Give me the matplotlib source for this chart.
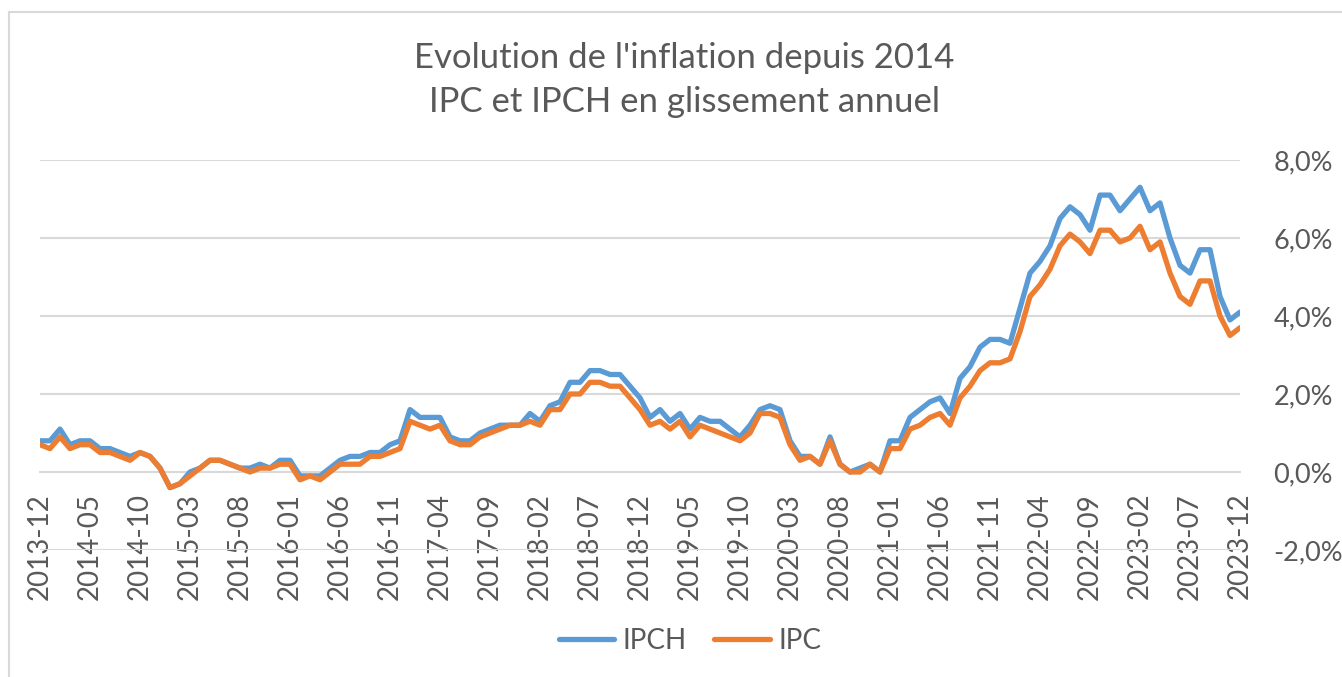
import numpy as np
from matplotlib import pyplot as plt
import matplotlib.ticker as mtick
from matplotlib.lines import Line2D

# monthly year-on-year inflation, 2013-12 .. 2023-12 (in %)
months = ["%d-%02d" % (2013 + (11 + i) // 12, (11 + i) % 12 + 1) for i in range(121)]

ipch = [0.8,
        0.8, 1.1, 0.7, 0.8, 0.8, 0.6, 0.6, 0.5, 0.4, 0.5, 0.4, 0.1,
        -0.4, -0.3, 0.0, 0.1, 0.3, 0.3, 0.2, 0.1, 0.1, 0.2, 0.1, 0.3,
        0.3, -0.1, -0.1, -0.1, 0.1, 0.3, 0.4, 0.4, 0.5, 0.5, 0.7, 0.8,
        1.6, 1.4, 1.4, 1.4, 0.9, 0.8, 0.8, 1.0, 1.1, 1.2, 1.2, 1.2,
        1.5, 1.3, 1.7, 1.8, 2.3, 2.3, 2.6, 2.6, 2.5, 2.5, 2.2, 1.9,
        1.4, 1.6, 1.3, 1.5, 1.1, 1.4, 1.3, 1.3, 1.1, 0.9, 1.2, 1.6,
        1.7, 1.6, 0.8, 0.4, 0.4, 0.2, 0.9, 0.2, 0.0, 0.1, 0.2, 0.0,
        0.8, 0.8, 1.4, 1.6, 1.8, 1.9, 1.5, 2.4, 2.7, 3.2, 3.4, 3.4,
        3.3, 4.2, 5.1, 5.4, 5.8, 6.5, 6.8, 6.6, 6.2, 7.1, 7.1, 6.7,
        7.0, 7.3, 6.7, 6.9, 6.0, 5.3, 5.1, 5.7, 5.7, 4.5, 3.9, 4.1]

ipc = [0.7,
       0.6, 0.9, 0.6, 0.7, 0.7, 0.5, 0.5, 0.4, 0.3, 0.5, 0.4, 0.1,
       -0.4, -0.3, -0.1, 0.1, 0.3, 0.3, 0.2, 0.1, 0.0, 0.1, 0.1, 0.2,
       0.2, -0.2, -0.1, -0.2, 0.0, 0.2, 0.2, 0.2, 0.4, 0.4, 0.5, 0.6,
       1.3, 1.2, 1.1, 1.2, 0.8, 0.7, 0.7, 0.9, 1.0, 1.1, 1.2, 1.2,
       1.3, 1.2, 1.6, 1.6, 2.0, 2.0, 2.3, 2.3, 2.2, 2.2, 1.9, 1.6,
       1.2, 1.3, 1.1, 1.3, 0.9, 1.2, 1.1, 1.0, 0.9, 0.8, 1.0, 1.5,
       1.5, 1.4, 0.7, 0.3, 0.4, 0.2, 0.8, 0.2, 0.0, 0.0, 0.2, 0.0,
       0.6, 0.6, 1.1, 1.2, 1.4, 1.5, 1.2, 1.9, 2.2, 2.6, 2.8, 2.8,
       2.9, 3.6, 4.5, 4.8, 5.2, 5.8, 6.1, 5.9, 5.6, 6.2, 6.2, 5.9,
       6.0, 6.3, 5.7, 5.9, 5.1, 4.5, 4.3, 4.9, 4.9, 4.0, 3.5, 3.7]

grey = '#595959'
blue = '#5B9BD5'
orange = '#ED7D31'
gridc = '#D9D9D9'

plt.rcParams['font.family'] = ['Lato', 'DejaVu Sans']

fig = plt.figure(figsize=(13.42, 6.77), dpi=100)
ax = fig.add_axes([40/1342, 1 - 550/677, 1200/1342, 390/677])

x = np.arange(len(months))
ax.plot(x, ipch, color=blue, lw=3.8, solid_joinstyle='round', solid_capstyle='round', zorder=3)
ax.plot(x, ipc, color=orange, lw=3.8, solid_joinstyle='round', solid_capstyle='round', zorder=4)

# x axis crosses at 0, so the labels sit under the 0 line
for s in ['top', 'right', 'left']:
    ax.spines[s].set_visible(False)
ax.spines['bottom'].set_position(('data', 0))
ax.spines['bottom'].set_color(gridc)
ax.spines['bottom'].set_linewidth(1.5)

ax.set_xlim(0, len(months) - 1)
ax.set_ylim(-2, 8)
ax.set_yticks(np.arange(-2, 8.1, 2))
ax.yaxis.set_major_formatter(mtick.FuncFormatter(lambda v, p: ('%.1f%%' % v).replace('.', ',')))
ax.yaxis.tick_right()
ax.tick_params(axis='y', length=0, pad=24, labelsize=19.5, labelcolor=grey)
ax.grid(axis='y', color=gridc, lw=1.5)
ax.set_axisbelow(True)

ax.set_xticks(x[::5])
ax.set_xticklabels(months[::5])
ax.tick_params(axis='x', length=0, pad=15, labelsize=20, labelcolor=grey, labelrotation=90)

fig.text(0.51, 1 - 58/677, "Evolution de l'inflation depuis 2014", ha='center', va='center',
         fontsize=25, color=grey)
fig.text(0.51, 1 - 102/677, "IPC et IPCH en glissement annuel", ha='center', va='center',
         fontsize=25, color=grey)

handles = [Line2D([], [], color=blue, lw=3.8, solid_capstyle='round'),
           Line2D([], [], color=orange, lw=3.8, solid_capstyle='round')]
fig.legend(handles, ['IPCH', 'IPC'], loc='center', bbox_to_anchor=(690/1342, 1 - 641/677),
           ncol=2, frameon=False, fontsize=20, labelcolor=grey, handlelength=2.0,
           handletextpad=0.3, columnspacing=1.0)

# chart area border (top and left edges visible)
fig.add_artist(Line2D([9/1342, 1], [1 - 12/677, 1 - 12/677], transform=fig.transFigure, color=gridc, lw=1.5))
fig.add_artist(Line2D([9/1342, 9/1342], [0, 1 - 12/677], transform=fig.transFigure, color=gridc, lw=1.5))

fig.savefig('out.png', dpi=100)
